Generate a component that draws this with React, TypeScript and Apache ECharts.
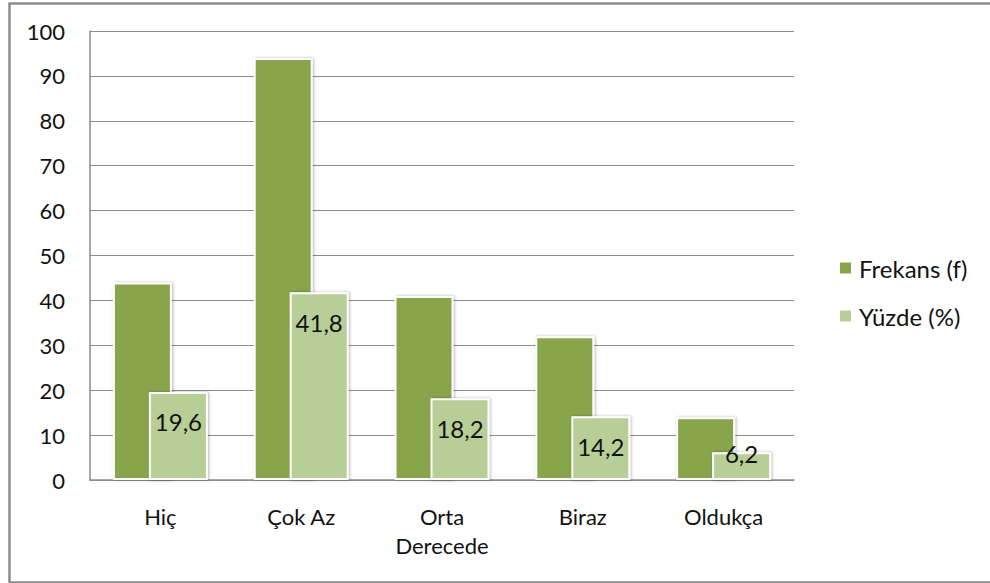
import React, { useEffect, useRef } from "react";
import * as echarts from "echarts";

const categories = ["Hiç", "Çok Az", "Orta\nDerecede", "Biraz", "Oldukça"];
const frekans = [44, 94, 41, 32, 14];
const yuzde = [19.6, 41.8, 18.2, 14.2, 6.2];
const yTicks = { min: 0, max: 100, interval: 10 };
const seriesNames = ["Frekans (f)", "Yüzde (%)"];

const FONT = "Lato";

export default function App() {
  const ref = useRef<HTMLDivElement>(null);
  useEffect(() => {
    document.body.style.margin = "0";
    const chart = echarts.init(ref.current!, null, { renderer: "svg" });
    const fmt = (v: number) => String(v).replace(".", ",");
    const barStyle = (color: string) => ({
      color,
      borderColor: "#ffffff",
      borderWidth: 2,
      shadowBlur: 3,
      shadowColor: "rgba(0,0,0,0.3)",
      shadowOffsetX: 1,
      shadowOffsetY: 0,
    });
    chart.setOption({
      animation: false,
      backgroundColor: "#ffffff",
      textStyle: { fontFamily: FONT },
      graphic: [
        {
          type: "rect",
          left: 7,
          top: 1,
          shape: { width: 1000, height: 579 },
          style: { fill: "none", stroke: "#8c8c8c", lineWidth: 2.5 },
          z: 100,
        },
      ],
      legend: {
        orient: "vertical",
        left: 838,
        top: 256,
        padding: 0,
        itemWidth: 13,
        itemHeight: 13,
        itemGap: 24,
        icon: "rect",
        data: seriesNames,
        textStyle: { fontFamily: FONT, fontSize: 24, color: "#111111", lineHeight: 22, padding: [0, 0, 0, 2] },
      },
      grid: { left: 90, top: 31, right: 196, bottom: 103, containLabel: false },
      xAxis: {
        type: "category",
        data: categories,
        axisLine: { show: true, lineStyle: { color: "#8c8c8c", width: 1.5 } },
        axisTick: { show: false },
        axisLabel: {
          fontFamily: FONT,
          fontSize: 22,
          lineHeight: 29,
          color: "#111111",
          margin: 22,
          interval: 0,
        },
      },
      yAxis: {
        type: "value",
        min: yTicks.min,
        max: yTicks.max,
        interval: yTicks.interval,
        axisLine: { show: true, lineStyle: { color: "#8c8c8c", width: 1.5 } },
        axisTick: { show: false },
        splitLine: { show: true, lineStyle: { color: "#8c8c8c", width: 1 } },
        axisLabel: { fontFamily: FONT, fontSize: 22, color: "#111111", margin: 25 },
      },
      series: [
        {
          name: seriesNames[0],
          type: "bar",
          data: frekans,
          barWidth: 59,
          barGap: "-39%",
          itemStyle: barStyle("#89a54c"),
          z: 2,
        },
        {
          name: seriesNames[1],
          type: "bar",
          data: yuzde.map((v, i) => ({
            value: v,
            label: i === yuzde.length - 1 ? { position: ["50%", 1] } : undefined,
          })),
          barWidth: 59,
          itemStyle: barStyle("#b8ce97"),
          z: 3,
          label: {
            show: true,
            position: ["50%", 30],
            align: "center",
            verticalAlign: "middle",
            fontFamily: FONT,
            fontSize: 24,
            color: "#111111",
            formatter: (p: any) => fmt(p.value),
          },
        },
      ],
    });
    return () => chart.dispose();
  }, []);
  return (
    <div
      ref={ref}
      style={{ position: "absolute", left: 0, top: 0, width: 990, height: 583 }}
    />
  );
}
